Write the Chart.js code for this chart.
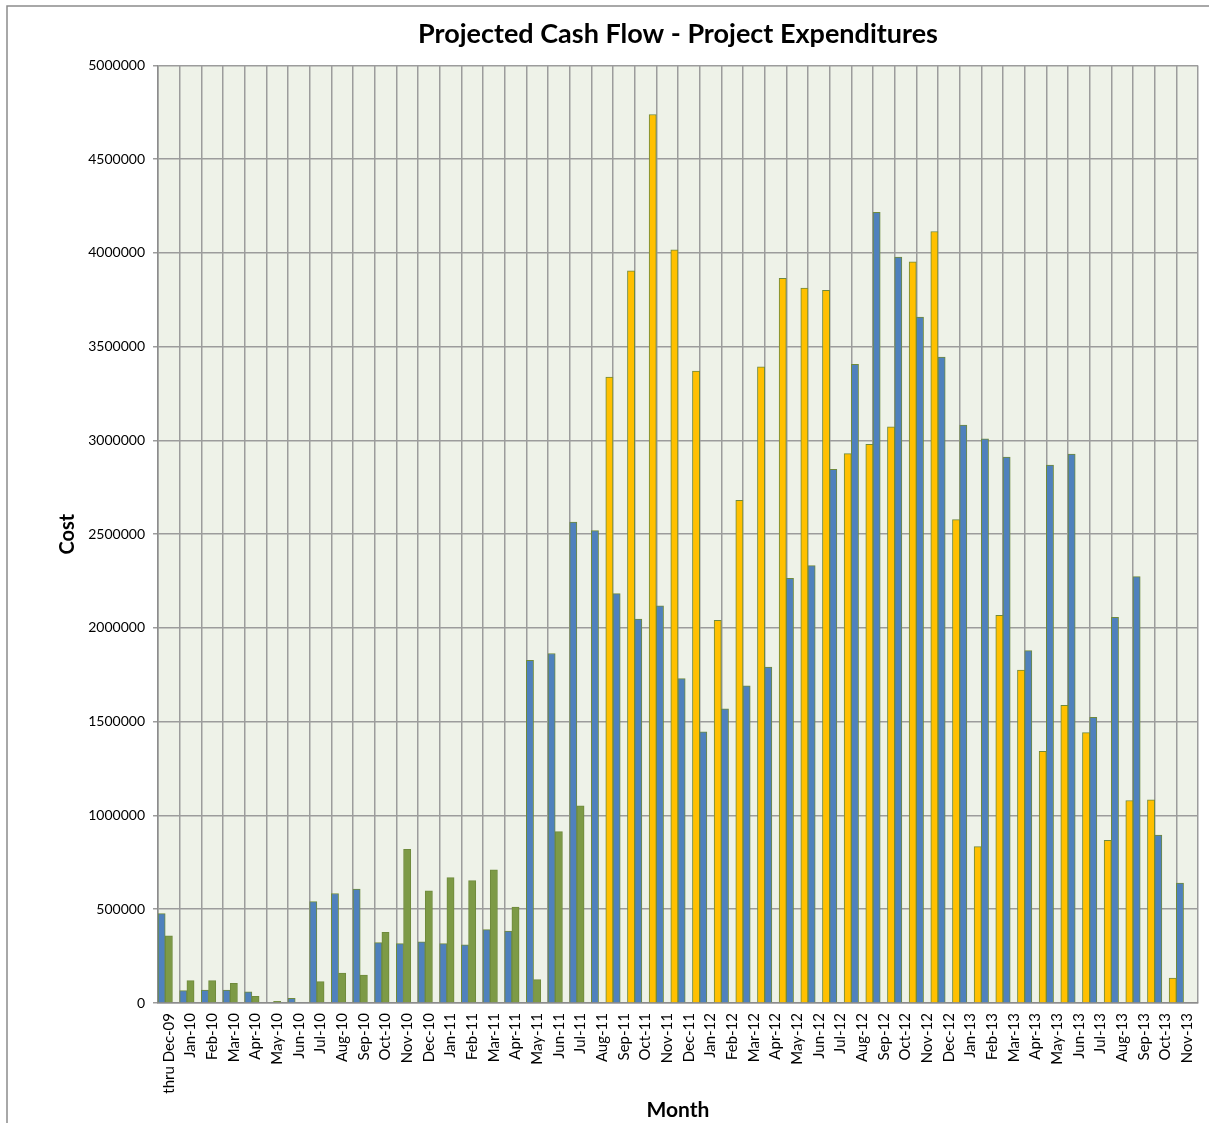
<!DOCTYPE html>
<html>
<head>
<meta charset="utf-8">
<title>Projected Cash Flow - Project Expenditures</title>
<script src="https://cdn.jsdelivr.net/npm/chart.js@4.4.1/dist/chart.umd.min.js"></script>
<style>
  body { margin: 0; background: #ffffff; }
  #wrap { width: 1216px; height: 1123px; }
</style>
</head>
<body>
<div id="wrap"><canvas id="cashChart" width="1216" height="1123"></canvas></div>
<script>
    // Month categories
    const months = [
        'thru Dec-09', 'Jan-10', 'Feb-10', 'Mar-10', 'Apr-10', 'May-10', 'Jun-10', 'Jul-10', 'Aug-10', 'Sep-10', 'Oct-10', 'Nov-10', 'Dec-10',
        'Jan-11', 'Feb-11', 'Mar-11', 'Apr-11', 'May-11', 'Jun-11', 'Jul-11', 'Aug-11', 'Sep-11', 'Oct-11', 'Nov-11', 'Dec-11',
        'Jan-12', 'Feb-12', 'Mar-12', 'Apr-12', 'May-12', 'Jun-12', 'Jul-12', 'Aug-12', 'Sep-12', 'Oct-12', 'Nov-12', 'Dec-12',
        'Jan-13', 'Feb-13', 'Mar-13', 'Apr-13', 'May-13', 'Jun-13', 'Jul-13', 'Aug-13', 'Sep-13', 'Oct-13', 'Nov-13'
    ];

    // Blue series (first bar in each month)
    const blueCost = [
        477000, 66000, 69000, 69000, 59000, null, 25000, 541000, 584000, 607000, 322000, 317000, 326000,
        317000, 310000, 391000, 383000, 1828000, 1864000, 2565000, 2519000, 2183000, 2047000, 2118000, 1730000,
        1446000, 1569000, 1691000, 1792000, 2264000, 2332000, 2846000, 3406000, 4217000, 3978000, 3658000, 3444000,
        3082000, 3008000, 2911000, 1879000, 2869000, 2927000, 1523000, 2057000, 2274000, 896000, 640000
    ];

    // Green series (second bar, up to Jul-11)
    const greenCost = [
        358000, 119000, 119000, 105000, 36000, 9000, null, 114000, 160000, 149000, 377000, 820000, 598000,
        669000, 653000, 710000, 511000, 125000, 914000, 1051000, null, null, null, null, null,
        null, null, null, null, null, null, null, null, null, null, null, null,
        null, null, null, null, null, null, null, null, null, null, null
    ];

    // Yellow series (third bar, from Aug-11)
    const yellowCost = [
        null, null, null, null, null, null, null, null, null, null, null, null, null,
        null, null, null, null, null, null, null, 3338000, 3904000, 4738000, 4017000, 3370000,
        2041000, 2681000, 3393000, 3865000, 3813000, 3800000, 2930000, 2979000, 3072000, 3952000, 4114000, 2578000,
        834000, 2067000, 1776000, 1342000, 1588000, 1442000, 867000, 1080000, 1083000, 133000, null
    ];

    const yTicks = [0, 500000, 1000000, 1500000, 2000000, 2500000, 3000000, 3500000, 4000000, 4500000, 5000000];

    const fontName = 'Lato, "Open Sans", sans-serif';

    // outer chart frame (only top and left edges show in the picture)
    const framePlugin = {
        id: 'frame',
        afterDraw(chart) {
            const ctx = chart.ctx;
            ctx.save();
            ctx.strokeStyle = '#8c8c8c';
            ctx.lineWidth = 1.5;
            ctx.beginPath();
            ctx.moveTo(7, 1123);
            ctx.lineTo(7, 6);
            ctx.lineTo(1209, 6);
            ctx.stroke();
            ctx.restore();
        }
    };

    // plot area fill
    const plotBgPlugin = {
        id: 'plotBg',
        beforeDraw(chart) {
            const a = chart.chartArea;
            const ctx = chart.ctx;
            ctx.save();
            ctx.fillStyle = '#eef2e8';
            ctx.fillRect(a.left, a.top, a.right - a.left, a.bottom - a.top);
            ctx.restore();
        }
    };

    function makeSet(label, data, color) {
        return {
            label: label,
            data: data,
            backgroundColor: color,
            borderColor: '#6f8a3c',
            borderWidth: 1,
            categoryPercentage: 1.0,
            barPercentage: 1.0
        };
    }

    const ctx = document.getElementById('cashChart').getContext('2d');

    new Chart(ctx, {
        type: 'bar',
        data: {
            labels: months,
            datasets: [
                makeSet('Series 1', blueCost, '#4f81bd'),
                makeSet('Series 2', greenCost, '#7d9a46'),
                makeSet('Series 3', yellowCost, '#ffc000')
            ]
        },
        options: {
            responsive: false,
            animation: false,
            devicePixelRatio: 1,
            layout: {
                padding: { left: 8, right: 18, top: 0, bottom: 0 }
            },
            plugins: {
                legend: { display: false },
                tooltip: { enabled: false },
                title: {
                    display: true,
                    fullSize: false,
                    text: 'Projected Cash Flow - Project Expenditures',
                    color: '#000000',
                    font: { family: fontName, size: 27, weight: 'bold' },
                    padding: { top: 18, bottom: 15 }
                }
            },
            scales: {
                x: {
                    grid: {
                        color: '#9c9c9c',
                        lineWidth: 1.5,
                        drawTicks: false
                    },
                    border: { color: '#8c8c8c', width: 1.5 },
                    ticks: {
                        autoSkip: false,
                        minRotation: 90,
                        maxRotation: 90,
                        padding: 10,
                        color: '#000000',
                        font: { family: fontName, size: 15 }
                    },
                    title: {
                        display: true,
                        text: 'Month',
                        color: '#000000',
                        font: { family: fontName, size: 21, weight: 'bold' },
                        padding: { top: 0, bottom: 0 }
                    },
                    afterFit: function(scale) {
                        scale.height = 120;
                    }
                },
                y: {
                    min: 0,
                    max: 5000000,
                    afterBuildTicks: function(scale) {
                        scale.ticks = yTicks.map(v => ({ value: v }));
                    },
                    grid: {
                        color: '#9c9c9c',
                        lineWidth: 1.5,
                        tickLength: 5
                    },
                    border: { color: '#8c8c8c', width: 1.5 },
                    ticks: {
                        padding: 8,
                        color: '#000000',
                        font: { family: fontName, size: 14 },
                        callback: function(value) {
                            return String(value);
                        }
                    },
                    title: {
                        display: true,
                        text: 'Cost',
                        color: '#000000',
                        font: { family: fontName, size: 20, weight: 'bold' },
                        padding: { top: 48, bottom: 0 }
                    },
                    afterFit: function(scale) {
                        scale.width = 150;
                    }
                }
            }
        },
        plugins: [plotBgPlugin, framePlugin]
    });
</script>
</body>
</html>
